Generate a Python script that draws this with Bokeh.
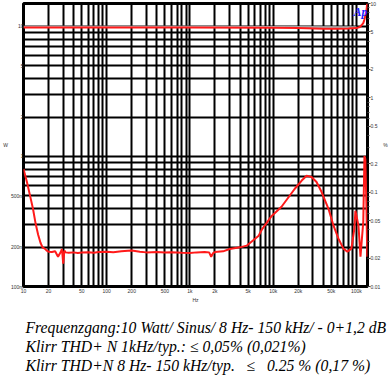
from bokeh.plotting import figure
from bokeh.layouts import column
from bokeh.models import (Range1d, LogScale, LogAxis, FixedTicker, Label)
from bokeh.core.properties import value
from bokeh.embed import file_html
from bokeh.resources import INLINE

# ---------------- data ----------------
freq_ticks = [10, 20, 50, 100, 200, 500, 1000, 2000, 5000, 10000, 20000, 50000, 100000]
freq_labels = ["10", "20", "50", "100", "200", "500", "1k", "2k", "5k", "10k", "20k", "50k", "100k"]

w_ticks = [0.1, 0.2, 0.5, 1, 2, 5, 10]
w_labels = ["100m", "200m", "500m", "1", "2", "5", "10"]

pct_ticks = [0.01, 0.02, 0.05, 0.1, 0.2, 0.5, 1, 2, 5, 10]
pct_labels = ["0.01", "0.02", "0.05", "0.1", "0.2", "0.5", "1", "2", "5", "10"]

# Frequency response at 10 W (left axis, W)
resp_freq = [10, 20, 50, 100, 1000, 10000, 20000, 40000, 60000, 80000,
             100000, 110000, 115000, 121000, 125000, 128000, 132000, 135000]
resp_w = [9.8, 9.8, 9.8, 9.8, 9.8, 9.75, 9.7, 9.6, 9.6, 9.62,
          9.7, 9.9, 10.2, 10.6, 11.3, 12.1, 13.2, 15.0]

# reference (grey) trace under the red one
ref_freq = [10, 100, 1000, 10000, 100000]
ref_w = [9.95, 9.95, 9.95, 9.9, 9.85]

# THD+N (right axis, %)
thd_freq = [10, 11, 12, 13, 14, 15, 16, 17, 18, 19, 20, 22, 24, 26, 28, 29, 30, 31, 32,
            35, 40, 45, 50, 60, 70, 80, 100, 120, 150, 180, 200, 250, 300, 400, 500,
            600, 800, 1000, 1200, 1500, 1700, 1800, 1900, 2000, 2500, 3000, 4000, 4800,
            6700, 7300, 9600, 12600, 18100, 21900, 25200, 28900, 33200, 38100, 46200,
            53100, 60900, 69900, 78000, 87100, 94600, 97300, 106000, 112000, 121000,
            125000, 128000, 132000, 135000]
thd_pct = [0.176, 0.128, 0.0914, 0.0667, 0.0462, 0.0354, 0.0291, 0.0258, 0.0252, 0.0240,
           0.0234, 0.0232, 0.0236, 0.0207, 0.0232, 0.0250, 0.0175, 0.0240, 0.0230,
           0.0228, 0.0230, 0.0226, 0.0229, 0.0231, 0.0228, 0.0232, 0.0234, 0.0231,
           0.0236, 0.0240, 0.0241, 0.0234, 0.0230, 0.0232, 0.0229, 0.0231, 0.0228,
           0.0226, 0.0230, 0.0232, 0.0230, 0.0207, 0.0226, 0.0232, 0.0236, 0.0250,
           0.0260, 0.0271, 0.0346, 0.0400, 0.0560, 0.0700, 0.108, 0.132, 0.149, 0.145,
           0.128, 0.101, 0.0667, 0.0441, 0.0321, 0.0252, 0.0234, 0.0252, 0.0410,
           0.0635, 0.0441, 0.0207, 0.0486, 0.242, 0.225, 0.0717, 0.0207]

NB = "\u00a0"
caption = [
    "Frequenzgang:10 Watt/ Sinus/ 8 Hz- 150 kHz/ - 0+1,2 dB",
    "Klirr THD+ N 1kHz/typ.: \u2264 0,05% (0,021%)",
    "Klirr THD+N 8 Hz- 150 kHz/typ." + NB + NB + " \u2264" + NB + NB + " 0.25 % (0,17 %)",
]
caption_row = [0, 1, 2]

# ---------------- helpers ----------------
def minors(lo, hi):
    out = []
    d = lo
    while d < hi:
        for m in range(2, 10):
            v = round(d * m, 6)
            if v < hi:
                out.append(v)
        d *= 10
    return out

x_minor = [v for v in minors(10, 200000) if v < 140000 and v not in freq_ticks]
w_minor = [v for v in minors(0.1, 20) if v < 15 and v not in w_ticks]
p_minor = [v for v in minors(0.01, 10) if v not in pct_ticks]

TICK_FONT = "Liberation Sans"
TICK_SIZE = "5px"
TICK_COLOR = "#333333"

# ---------------- main figure ----------------
p = figure(width=390, height=305,
           x_axis_type="log", y_axis_type="log",
           x_range=Range1d(10, 136000), y_range=Range1d(0.1, 15),
           output_backend="svg", toolbar_location=None,
           min_border_left=21, min_border_right=23, min_border_top=3, min_border_bottom=17,
           background_fill_color="white", border_fill_color="white")
try:
    p.frame_align = False
except Exception:
    pass

p.outline_line_color = "black"
p.outline_line_width = 3

xt = FixedTicker(ticks=freq_ticks, minor_ticks=x_minor)
yt = FixedTicker(ticks=w_ticks, minor_ticks=w_minor)
p.xaxis.ticker = xt
p.yaxis.ticker = yt
p.xgrid.ticker = xt
p.ygrid.ticker = yt
for g in (p.xgrid, p.ygrid):
    g.grid_line_color = "black"
    g.grid_line_width = 2
    g.grid_line_alpha = 1
    g.minor_grid_line_color = "black"
    g.minor_grid_line_width = 2

p.xaxis.major_label_overrides = {v: s for v, s in zip(freq_ticks, freq_labels)}
p.yaxis.major_label_overrides = {v: s for v, s in zip(w_ticks, w_labels)}
p.xaxis.axis_label = "Hz"
p.yaxis.axis_label = "W"

def style_axis(ax):
    ax.axis_line_color = None
    ax.major_label_text_font_size = TICK_SIZE
    ax.major_label_text_color = TICK_COLOR
    ax.major_label_text_font = TICK_FONT
    ax.major_label_standoff = 0
    ax.axis_label_text_font_size = TICK_SIZE
    ax.axis_label_text_color = TICK_COLOR
    ax.axis_label_text_font = TICK_FONT
    ax.axis_label_text_font_style = "normal"
    ax.axis_label_standoff = 0
    try:
        ax.axis_label_orientation = "horizontal"
    except Exception:
        pass

for ax in (p.xaxis[0], p.yaxis[0]):
    style_axis(ax)
    ax.major_tick_line_color = None
    ax.minor_tick_line_color = None
    ax.major_tick_in = 0
    ax.major_tick_out = 0
    ax.minor_tick_in = 0
    ax.minor_tick_out = 0
p.xaxis[0].major_label_standoff = 1

# right % axis
p.extra_y_ranges = {"pct": Range1d(0.01, 10)}
p.extra_y_scales = {"pct": LogScale()}
rax = LogAxis(y_range_name="pct", axis_label="%",
              ticker=FixedTicker(ticks=pct_ticks, minor_ticks=p_minor))
rax.major_label_overrides = {v: s for v, s in zip(pct_ticks, pct_labels)}
style_axis(rax)
rax.major_tick_line_color = "#444444"
rax.minor_tick_line_color = "#444444"
rax.major_tick_in = 0
rax.major_tick_out = 3
rax.minor_tick_in = 0
rax.minor_tick_out = 2
p.add_layout(rax, "right")

# traces
p.line(ref_freq, ref_w, line_color="#b0b0b0", line_width=2)
p.line(resp_freq, resp_w, line_color="#ff1a1a", line_width=2)
p.line(thd_freq, thd_pct, line_color="#ff1a1a", line_width=2, y_range_name="pct")

# AP logo
p.add_layout(Label(x=330, y=282, x_units="screen", y_units="screen", text="Ap",
                   text_font_size="12px", text_color="#1a1aff", text_font="Liberation Serif",
                   text_font_style="bold italic", text_baseline="top"))

# ---------------- caption figure ----------------
c = figure(width=390, height=71, x_range=Range1d(0, 390), y_range=Range1d(71, 0),
           output_backend="svg", toolbar_location=None,
           x_axis_location=None, y_axis_location=None,
           min_border=0, min_border_left=0, min_border_right=0,
           min_border_top=0, min_border_bottom=0,
           background_fill_color="white", border_fill_color="white")
try:
    c.frame_align = False
except Exception:
    pass
c.outline_line_color = None
c.xgrid.visible = False
c.ygrid.visible = False
c.text(x=[25] * len(caption), y=[21.5 + 19 * r for r in caption_row], text=caption,
       text_font=value("Liberation Serif"), text_font_style="italic",
       text_font_size="15.7px", text_color="black", text_baseline="alphabetic")

layout = column(p, c, spacing=0)
open("out.html", "w").write(file_html(layout, INLINE))
